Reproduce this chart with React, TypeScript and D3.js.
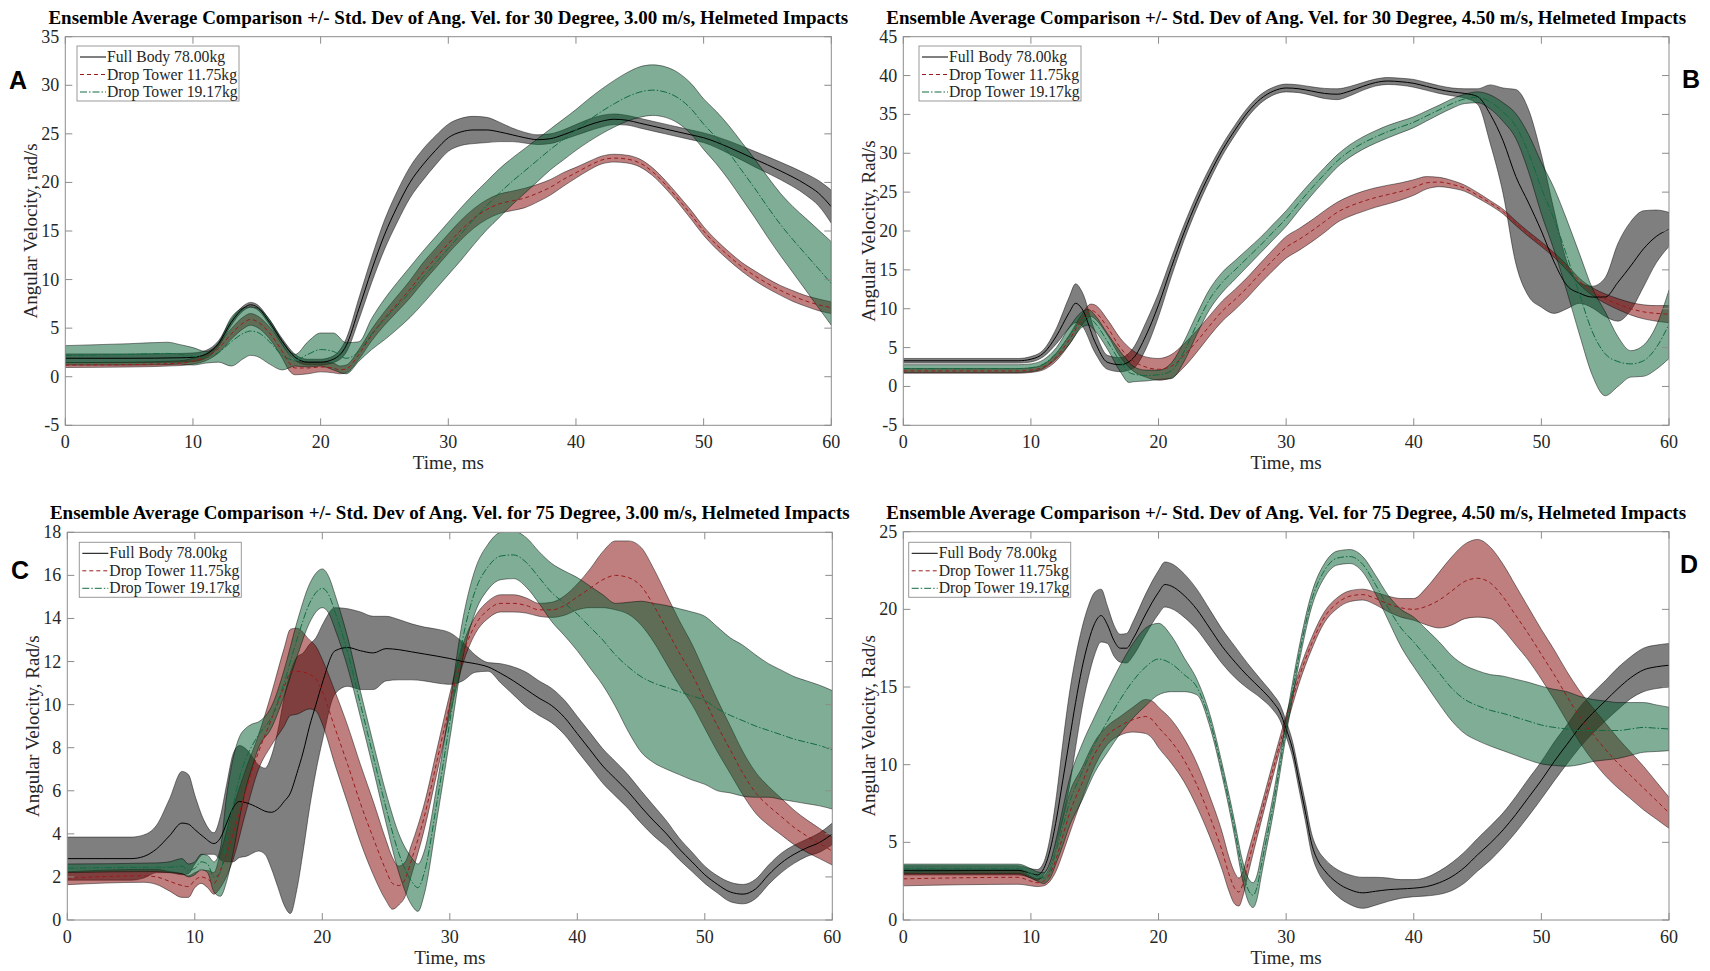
import React from 'react';
import * as d3 from 'd3';

// each point: [time ms, ensemble mean, std dev]
type Pt = [number, number, number];

// ---- A : 30 deg, 3.00 m/s ----
const aFullBody: Pt[] = [
  [0, 1.9, 0.45], [5, 1.9, 0.45], [9, 1.95, 0.45], [10, 2.0, 0.45], [11, 2.3, 0.4], [12, 3.4, 0.3],
  [13, 5.6, 0.3], [14, 7.1, 0.25], [14.5, 7.4, 0.25], [15, 7.2, 0.25], [16, 5.6, 0.25], [17, 3.6, 0.3],
  [18, 2.0, 0.3], [19, 1.5, 0.3], [20, 1.5, 0.3], [21, 1.8, 0.35], [22, 3.2, 0.7], [23, 7.0, 1.1],
  [24, 11.0, 1.3], [25, 14.6, 1.5], [26, 17.5, 1.6], [27, 20.0, 1.6], [28, 21.8, 1.6], [29, 23.3, 1.5],
  [30, 24.6, 1.4], [31, 25.2, 1.4], [32, 25.4, 1.4], [33, 25.4, 1.3], [34, 25.2, 1.0], [35, 24.9, 0.7],
  [36, 24.6, 0.55], [37, 24.4, 0.5], [38, 24.5, 0.5], [39, 24.9, 0.5], [40, 25.4, 0.55], [41, 25.9, 0.6],
  [42, 26.3, 0.6], [43, 26.5, 0.55], [44, 26.4, 0.5], [45, 26.1, 0.5], [46, 25.8, 0.5], [47, 25.5, 0.5],
  [48, 25.2, 0.5], [49, 24.9, 0.5], [50, 24.6, 0.5], [52, 23.6, 0.65], [54, 22.4, 0.8], [56, 21.2, 0.9],
  [58, 19.8, 1.1], [59, 18.9, 1.3], [60, 17.5, 1.7],
];
const aDrop1175: Pt[] = [
  [0, 1.2, 0.25], [5, 1.25, 0.25], [9, 1.4, 0.25], [10, 1.6, 0.3], [11, 2.0, 0.35], [12, 2.9, 0.45],
  [13, 4.4, 0.55], [14, 5.6, 0.6], [14.5, 5.9, 0.6], [15, 5.7, 0.6], [16, 4.5, 0.6], [17, 2.6, 0.7],
  [17.5, 1.5, 0.8], [18, 0.9, 0.7], [19, 0.9, 0.6], [20, 1.0, 0.5], [21, 0.9, 0.5], [21.5, 0.7, 0.4],
  [22, 0.8, 0.4], [23, 2.3, 0.5], [24, 4.3, 0.6], [25, 6.0, 0.7], [26, 7.5, 0.8], [27, 9.0, 0.9],
  [28, 10.7, 1.0], [29, 12.2, 1.0], [30, 13.7, 1.0], [31, 15.1, 1.0], [32, 16.3, 1.0], [33, 17.2, 1.0],
  [34, 17.8, 1.0], [35, 18.1, 1.0], [36, 18.4, 1.0], [37, 18.9, 0.9], [38, 19.5, 0.8], [39, 20.3, 0.7],
  [40, 21.0, 0.55], [41, 21.7, 0.45], [42, 22.3, 0.4], [43, 22.5, 0.4], [44, 22.4, 0.4], [45, 22.0, 0.4],
  [46, 21.1, 0.4], [47, 19.8, 0.4], [48, 18.3, 0.4], [49, 16.7, 0.45], [50, 15.0, 0.45], [51, 13.6, 0.45],
  [52, 12.4, 0.45], [53, 11.3, 0.45], [54, 10.4, 0.5], [55, 9.6, 0.5], [56, 8.9, 0.5], [57, 8.3, 0.55],
  [58, 7.8, 0.55], [59, 7.4, 0.6], [60, 7.1, 0.6],
];
const aDrop1917: Pt[] = [
  [0, 2.2, 1.0], [5, 2.3, 1.1], [8, 2.4, 1.15], [9, 2.3, 1.0], [10, 2.1, 0.9], [11, 2.0, 0.6],
  [12, 2.5, 1.0], [13, 3.6, 2.5], [14, 4.5, 2.6], [14.5, 4.7, 2.5], [15, 4.6, 2.5], [16, 3.6, 2.3],
  [17, 2.2, 1.5], [18, 1.7, 0.6], [19, 2.3, 1.3], [20, 2.8, 1.7], [21, 2.6, 1.9], [22, 1.9, 1.6],
  [23, 2.6, 1.0], [24, 4.4, 1.6], [25, 5.9, 2.1], [26, 7.3, 2.4], [27, 8.7, 2.6], [28, 10.2, 2.7],
  [29, 11.7, 2.7], [30, 13.2, 2.7], [31, 14.7, 2.7], [32, 16.2, 2.6], [33, 17.6, 2.5], [34, 18.9, 2.5],
  [35, 20.1, 2.4], [36, 21.2, 2.3], [37, 22.3, 2.2], [38, 23.4, 2.1], [39, 24.4, 2.1], [40, 25.4, 2.1],
  [41, 26.4, 2.2], [42, 27.3, 2.3], [43, 28.1, 2.4], [44, 28.8, 2.5], [45, 29.3, 2.6], [46, 29.5, 2.6],
  [47, 29.3, 2.6], [48, 28.7, 2.6], [49, 27.6, 2.6], [50, 26.0, 2.6], [51, 24.6, 2.7], [52, 23.0, 2.8],
  [53, 21.2, 2.9], [54, 19.4, 3.0], [55, 17.5, 3.1], [56, 15.7, 3.2], [57, 14.1, 3.4], [58, 12.6, 3.7],
  [59, 11.1, 4.0], [60, 9.6, 4.3],
];

// ---- B : 30 deg, 4.50 m/s ----
const bFullBody: Pt[] = [
  [0, 3.3, 0.3], [9, 3.3, 0.3], [10, 3.5, 0.35], [11, 4.3, 0.45], [12, 6.5, 1.0], [13, 9.5, 2.0],
  [13.5, 10.7, 2.5], [14, 10.0, 2.2], [15, 5.8, 1.4], [16, 3.1, 0.9], [17, 2.8, 0.9], [18, 3.6, 1.3],
  [19, 6.5, 1.7], [20, 10.5, 1.5], [21, 15.3, 1.2], [22, 19.8, 1.0], [23, 23.8, 0.9], [24, 27.3, 0.8],
  [25, 30.4, 0.7], [26, 33.0, 0.65], [27, 35.3, 0.6], [28, 37.0, 0.55], [29, 38.0, 0.5], [30, 38.4, 0.5],
  [31, 38.3, 0.5], [32, 38.0, 0.55], [33, 37.7, 0.65], [34, 37.6, 0.7], [35, 38.0, 0.6], [36, 38.6, 0.5],
  [37, 39.1, 0.45], [38, 39.3, 0.45], [39, 39.2, 0.45], [40, 39.0, 0.5], [41, 38.6, 0.5], [42, 38.2, 0.5],
  [43, 37.9, 0.5], [44, 37.7, 0.6], [45, 37.3, 1.0], [46, 35.0, 3.8], [47, 31.6, 6.8], [48, 27.0, 11.2],
  [49, 23.6, 12.0], [50, 20.0, 9.8], [51, 16.0, 6.6], [52, 13.0, 3.0], [53, 12.0, 1.3], [54, 11.5, 1.4],
  [55, 11.5, 2.5], [56, 13.4, 5.0], [57, 15.5, 5.7], [58, 17.7, 4.9], [59, 19.3, 3.4], [60, 20.2, 2.2],
];
const bDrop1175: Pt[] = [
  [0, 2.0, 0.3], [9, 2.0, 0.3], [10, 2.1, 0.3], [11, 2.5, 0.35], [12, 3.8, 0.5], [13, 6.0, 0.6],
  [14, 8.6, 0.7], [14.7, 9.8, 0.8], [15, 9.6, 0.9], [16, 7.6, 1.0], [17, 5.0, 1.2], [18, 3.3, 1.3],
  [19, 2.5, 1.3], [20, 2.2, 1.4], [21, 2.6, 1.5], [22, 4.0, 1.5], [23, 5.8, 1.4], [24, 7.8, 1.3],
  [25, 9.7, 1.3], [26, 11.2, 1.3], [27, 12.8, 1.3], [28, 14.6, 1.3], [29, 16.3, 1.35], [30, 17.9, 1.4],
  [31, 18.9, 1.4], [32, 20.0, 1.4], [33, 21.2, 1.4], [34, 22.4, 1.3], [35, 23.2, 1.3], [36, 23.8, 1.3],
  [37, 24.3, 1.25], [38, 24.7, 1.2], [39, 25.1, 1.1], [40, 25.6, 1.0], [41, 26.2, 0.8], [42, 26.3, 0.6],
  [43, 26.0, 0.5], [44, 25.5, 0.4], [45, 24.6, 0.35], [46, 23.6, 0.3], [47, 22.5, 0.3], [48, 21.0, 0.3],
  [49, 19.6, 0.3], [50, 18.3, 0.3], [51, 16.9, 0.3], [52, 15.3, 0.35], [53, 13.5, 0.4], [54, 12.2, 0.5],
  [55, 11.3, 0.6], [56, 10.6, 0.7], [57, 10.0, 0.8], [58, 9.6, 0.9], [59, 9.4, 1.0], [60, 9.3, 1.1],
];
const bDrop1917: Pt[] = [
  [0, 2.3, 0.5], [9, 2.3, 0.5], [10, 2.4, 0.5], [11, 2.9, 0.55], [12, 4.3, 0.7], [13, 6.5, 1.1],
  [14, 8.6, 1.0], [14.5, 8.9, 1.0], [15, 8.2, 1.0], [16, 5.8, 1.0], [17, 3.2, 1.3], [17.7, 1.8, 1.3],
  [18, 1.6, 1.0], [19, 1.4, 0.7], [20, 1.5, 0.6], [21, 2.0, 1.0], [22, 4.5, 1.3], [23, 8.0, 1.3],
  [24, 11.2, 1.3], [25, 13.4, 1.3], [26, 15.0, 1.2], [27, 16.6, 1.1], [28, 18.2, 1.0], [29, 19.9, 1.0],
  [30, 21.6, 1.0], [31, 23.6, 0.95], [32, 25.5, 0.9], [33, 27.3, 0.85], [34, 29.0, 0.8], [35, 30.3, 0.8],
  [36, 31.3, 0.8], [37, 32.1, 0.8], [38, 32.8, 0.8], [39, 33.4, 0.75], [40, 34.0, 0.7], [41, 34.8, 0.65],
  [42, 35.6, 0.6], [43, 36.4, 0.6], [44, 37.0, 0.6], [45, 37.2, 0.7], [46, 36.6, 0.9], [47, 35.3, 1.2],
  [48, 33.5, 1.6], [49, 30.0, 2.4], [50, 25.5, 3.3], [51, 21.5, 4.0], [52, 16.8, 4.6], [53, 11.8, 5.2],
  [54, 7.0, 5.6], [55, 4.2, 5.4], [56, 3.2, 3.2], [57, 2.9, 1.7], [58, 3.3, 2.0], [59, 5.0, 2.8],
  [60, 8.0, 4.4],
];

// ---- C : 75 deg, 3.00 m/s ----
const cFullBody: Pt[] = [
  [0, 2.85, 1.0], [5, 2.85, 1.0], [6, 2.95, 1.0], [7, 3.3, 1.1], [8, 3.9, 1.7], [9, 4.5, 2.4],
  [9.5, 4.45, 2.3], [10, 4.2, 1.6], [10.7, 3.85, 0.8], [11.5, 3.55, 0.5], [12, 3.8, 1.0], [12.5, 4.5, 1.8],
  [13, 5.2, 2.5], [13.5, 5.5, 2.6], [14, 5.45, 2.5], [15, 5.2, 2.0], [15.5, 5.05, 2.0], [16, 5.0, 2.6],
  [16.5, 5.15, 3.6], [17, 5.5, 4.8], [17.5, 5.9, 5.6], [18, 6.8, 5.4], [18.5, 7.8, 4.6], [19, 9.0, 3.8],
  [19.5, 10.0, 3.1], [20, 11.0, 2.7], [21, 12.5, 2.0], [22, 12.65, 1.8], [23, 12.5, 1.8], [24, 12.4, 1.7],
  [25, 12.6, 1.5], [26, 12.55, 1.4], [27, 12.45, 1.3], [28, 12.35, 1.25], [29, 12.25, 1.25], [30, 12.14, 1.2],
  [31, 12.0, 0.9], [32, 11.9, 0.4], [33, 11.75, 0.2], [34, 11.45, 0.45], [35, 11.1, 0.65], [36, 10.7, 0.8],
  [37, 10.3, 0.8], [38, 9.95, 0.8], [39, 9.4, 0.8], [40, 8.65, 0.8], [41, 7.9, 0.8], [42, 7.15, 0.8],
  [43, 6.55, 0.8], [44, 5.95, 0.78], [45, 5.25, 0.75], [46, 4.6, 0.7], [47, 4.0, 0.6], [48, 3.3, 0.5],
  [49, 2.7, 0.45], [50, 2.1, 0.4], [51, 1.65, 0.4], [52, 1.3, 0.45], [53, 1.2, 0.45], [54, 1.45, 0.45],
  [55, 2.1, 0.45], [56, 2.65, 0.45], [57, 3.05, 0.42], [58, 3.35, 0.4], [59, 3.6, 0.45], [60, 4.0, 0.5],
];
const cDrop1175: Pt[] = [
  [0, 1.94, 0.3], [6, 2.05, 0.3], [7, 2.0, 0.35], [8, 1.8, 0.45], [9, 1.6, 0.55], [9.5, 1.55, 0.5],
  [10, 1.85, 0.35], [10.5, 2.0, 0.3], [11, 1.9, 0.4], [11.5, 1.7, 0.5], [12, 2.3, 0.8], [13, 4.0, 1.2],
  [14, 6.0, 1.0], [15, 7.8, 0.8], [16, 9.3, 1.2], [17, 10.8, 1.8], [17.5, 11.5, 2.0], [18, 11.55, 2.0],
  [19, 11.4, 1.6], [19.5, 11.2, 1.5], [20, 10.6, 1.5], [21, 8.9, 1.7], [22, 7.2, 1.8], [23, 5.4, 1.8],
  [24, 3.8, 1.7], [25, 2.3, 1.4], [25.5, 1.7, 1.2], [26, 1.6, 0.9], [26.5, 1.9, 0.8], [27, 2.8, 0.7],
  [28, 4.8, 0.6], [29, 7.4, 0.55], [30, 10.0, 0.5], [31, 12.3, 0.45], [32, 13.7, 0.4], [33, 14.4, 0.4],
  [34, 14.7, 0.4], [35, 14.7, 0.4], [36, 14.6, 0.35], [37, 14.4, 0.3], [38, 14.4, 0.35], [39, 14.6, 0.45],
  [40, 15.0, 0.6], [41, 15.4, 0.9], [42, 15.8, 1.3], [43, 16.0, 1.6], [44, 15.9, 1.7], [45, 15.5, 1.8],
  [46, 14.6, 1.7], [47, 13.5, 1.6], [48, 12.4, 1.5], [49, 11.4, 1.4], [50, 10.2, 1.3], [51, 9.0, 1.2],
  [52, 7.9, 1.1], [53, 6.8, 1.0], [54, 5.9, 0.95], [55, 5.3, 0.9], [56, 4.8, 0.85], [57, 4.3, 0.8],
  [58, 3.9, 0.75], [59, 3.55, 0.7], [60, 3.2, 0.65],
];
const cDrop1917: Pt[] = [
  [0, 2.4, 0.2], [7, 2.45, 0.2], [8, 2.45, 0.25], [9, 2.5, 0.35], [9.5, 2.3, 0.3], [10, 2.4, 0.3],
  [10.5, 2.7, 0.35], [11, 2.6, 0.4], [11.5, 2.0, 0.7], [12, 2.2, 1.1], [12.5, 3.8, 2.0], [13, 5.3, 2.2],
  [13.5, 6.6, 1.9], [14, 7.5, 1.4], [14.5, 8.1, 1.0], [15, 8.6, 0.6], [16, 9.4, 0.5], [17, 11.0, 0.6],
  [18, 13.0, 0.8], [19, 14.7, 0.9], [19.5, 15.2, 0.9], [20, 15.4, 0.9], [20.5, 15.1, 0.85], [21, 14.3, 0.8],
  [22, 12.4, 0.7], [23, 10.0, 0.6], [24, 7.6, 0.6], [25, 5.2, 0.7], [26, 3.1, 0.9], [27, 1.8, 1.1],
  [27.5, 1.5, 1.1], [28, 2.2, 1.0], [29, 5.5, 0.8], [30, 9.2, 0.8], [31, 13.0, 0.9], [32, 15.3, 1.0],
  [33, 16.4, 1.05], [34, 16.9, 1.1], [35, 16.95, 1.1], [36, 16.6, 1.15], [37, 15.9, 1.2], [38, 15.2, 1.35],
  [39, 14.7, 1.5], [40, 14.2, 1.7], [41, 13.6, 1.9], [42, 13.0, 2.1], [43, 12.3, 2.4], [44, 11.75, 3.0],
  [45, 11.3, 3.5], [46, 11.0, 3.7], [47, 10.8, 3.8], [48, 10.6, 3.85], [49, 10.4, 3.9], [50, 10.2, 3.9],
  [51, 9.8, 3.8], [52, 9.5, 3.6], [53, 9.25, 3.5], [54, 9.0, 3.3], [55, 8.8, 3.1], [56, 8.6, 3.0],
  [57, 8.4, 2.9], [58, 8.25, 2.85], [59, 8.1, 2.8], [60, 7.9, 2.75],
];

// ---- D : 75 deg, 4.50 m/s ----
const dFullBody: Pt[] = [
  [0, 3.2, 0.3], [9, 3.2, 0.3], [10, 3.0, 0.3], [10.5, 2.9, 0.35], [11, 3.3, 0.4], [11.5, 4.5, 0.8],
  [12, 6.5, 1.5], [12.5, 9.0, 2.4], [13, 11.5, 3.0], [13.5, 14.0, 2.9], [14, 16.2, 2.6], [14.5, 17.9, 2.3],
  [15, 19.1, 2.0], [15.5, 19.6, 1.7], [16, 19.0, 1.2], [16.5, 18.0, 1.0], [17, 17.5, 0.9], [17.5, 17.5, 0.95],
  [18, 18.1, 1.1], [19, 19.7, 1.3], [20, 21.1, 1.4], [20.5, 21.6, 1.45], [21, 21.5, 1.45], [22, 20.9, 1.4],
  [23, 20.0, 1.3], [24, 18.8, 1.2], [25, 17.6, 1.1], [26, 16.6, 1.0], [27, 15.7, 0.8], [28, 14.9, 0.6],
  [29, 14.0, 0.5], [29.5, 13.4, 0.5], [30, 12.3, 0.5], [30.5, 11.0, 0.5], [31, 9.0, 0.55], [31.5, 7.0, 0.6],
  [32, 4.9, 0.65], [32.5, 3.8, 0.7], [33, 3.2, 0.75], [34, 2.4, 0.85], [35, 1.95, 0.95], [36, 1.75, 1.0],
  [37, 1.85, 0.9], [38, 1.95, 0.75], [39, 2.0, 0.6], [40, 2.05, 0.55], [41, 2.15, 0.6], [42, 2.4, 0.75],
  [43, 2.8, 0.9], [44, 3.4, 1.0], [45, 4.2, 1.05], [46, 4.95, 1.1], [47, 5.8, 1.1], [48, 6.8, 1.15],
  [49, 7.9, 1.2], [50, 9.0, 1.2], [51, 10.2, 1.25], [52, 11.3, 1.25], [53, 12.4, 1.3], [54, 13.3, 1.3],
  [55, 14.1, 1.3], [56, 14.9, 1.35], [57, 15.6, 1.35], [58, 16.1, 1.4], [59, 16.3, 1.4], [60, 16.4, 1.4],
];
const dDrop1175: Pt[] = [
  [0, 2.65, 0.45], [9, 2.75, 0.45], [10, 2.5, 0.3], [10.5, 2.4, 0.25], [11, 2.5, 0.3], [11.5, 3.0, 0.5],
  [12, 4.0, 0.8], [12.5, 5.4, 1.1], [13, 6.8, 1.3], [14, 8.8, 1.0], [15, 10.7, 0.8], [16, 11.9, 0.6],
  [17, 12.5, 0.6], [18, 12.9, 0.8], [19, 13.1, 1.1], [19.5, 12.9, 1.2], [20, 12.4, 1.3], [21, 11.5, 1.4],
  [22, 10.3, 1.4], [23, 8.7, 1.4], [24, 6.7, 1.3], [25, 4.4, 1.2], [25.5, 3.0, 1.1], [26, 2.0, 1.0],
  [26.3, 1.8, 0.9], [26.6, 2.3, 0.8], [27, 3.6, 0.7], [28, 6.7, 0.5], [29, 9.8, 0.45], [30, 12.8, 0.4],
  [31, 15.6, 0.4], [32, 17.8, 0.38], [33, 19.5, 0.35], [34, 20.4, 0.35], [35, 20.85, 0.35], [36, 20.95, 0.35],
  [37, 20.7, 0.4], [38, 20.35, 0.5], [39, 20.1, 0.6], [40, 20.0, 0.7], [41, 20.2, 1.2], [42, 20.6, 1.8],
  [43, 21.2, 2.2], [44, 21.8, 2.4], [45, 22.0, 2.5], [46, 21.7, 2.3], [47, 20.8, 2.1], [48, 19.6, 1.9],
  [49, 18.4, 1.7], [50, 17.1, 1.6], [51, 15.8, 1.6], [52, 14.4, 1.6], [53, 13.1, 1.65], [54, 12.0, 1.7],
  [55, 11.0, 1.7], [56, 10.1, 1.6], [57, 9.3, 1.5], [58, 8.5, 1.4], [59, 7.7, 1.2], [60, 6.9, 1.0],
];
const dDrop1917: Pt[] = [
  [0, 3.3, 0.3], [9, 3.3, 0.3], [10, 3.0, 0.3], [10.5, 2.8, 0.3], [11, 2.7, 0.35], [11.5, 3.2, 0.5],
  [12, 4.5, 0.8], [12.5, 6.0, 1.2], [13, 7.5, 1.5], [14, 9.5, 1.8], [15, 11.3, 1.8], [16, 12.8, 2.0],
  [17, 14.2, 2.2], [18, 15.4, 2.4], [19, 16.3, 2.5], [20, 16.8, 2.3], [21, 16.5, 1.8], [22, 15.8, 1.1],
  [23, 15.0, 0.5], [24, 12.9, 0.4], [25, 9.6, 0.4], [26, 5.7, 0.5], [26.5, 3.5, 0.6], [27, 2.0, 0.75],
  [27.4, 1.6, 0.8], [27.8, 2.4, 0.75], [28, 3.3, 0.7], [29, 7.5, 0.6], [30, 12.4, 0.5], [31, 17.0, 0.5],
  [32, 20.6, 0.45], [33, 22.5, 0.45], [34, 23.3, 0.45], [35, 23.4, 0.45], [36, 22.9, 0.5], [37, 21.6, 0.6],
  [38, 20.1, 0.8], [39, 18.8, 1.2], [40, 17.9, 1.6], [41, 16.9, 1.8], [42, 15.9, 2.0], [43, 14.9, 2.1],
  [44, 14.2, 2.2], [45, 13.8, 2.25], [46, 13.5, 2.3], [47, 13.3, 2.4], [48, 13.05, 2.45], [49, 12.8, 2.5],
  [50, 12.55, 2.5], [51, 12.4, 2.45], [52, 12.3, 2.4], [53, 12.2, 2.2], [54, 12.2, 2.0], [55, 12.2, 1.9],
  [56, 12.2, 1.8], [57, 12.3, 1.7], [58, 12.4, 1.6], [59, 12.35, 1.5], [60, 12.3, 1.4],
];

const seriesNames = ['Full Body 78.00kg', 'Drop Tower 11.75kg', 'Drop Tower 19.17kg'];
const xTicks = [0, 10, 20, 30, 40, 50, 60];

// fill / mean-line styles, same order as seriesNames
const styles = [
  { fill: '#000000', line: '#000000', dash: undefined as string | undefined },
  { fill: '#800000', line: '#9a1c1c', dash: '4,3' },
  { fill: '#005c2e', line: '#136b42', dash: '7,2,1.5,2' },
];

const panels = [
  {
    letter: 'A', lx: 18, ly: 89,
    title: 'Ensemble Average Comparison +/- Std. Dev of Ang. Vel. for 30 Degree, 3.00 m/s, Helmeted Impacts',
    yLabel: 'Angular Velocity, rad/s', yDomain: [-5, 35], yTicks: d3.range(-5, 36, 5),
    box: { left: 65.3, right: 831.3, top: 36.7, bottom: 425.3 },
    legend: { x: 77, y: 46 },
    series: [aFullBody, aDrop1175, aDrop1917],
  },
  {
    letter: 'B', lx: 1691, ly: 88,
    title: 'Ensemble Average Comparison +/- Std. Dev of Ang. Vel. for 30 Degree, 4.50 m/s, Helmeted Impacts',
    yLabel: 'Angular Velocity, Rad/s', yDomain: [-5, 45], yTicks: d3.range(-5, 46, 5),
    box: { left: 903.3, right: 1669, top: 36.7, bottom: 425.3 },
    legend: { x: 919, y: 46 },
    series: [bFullBody, bDrop1175, bDrop1917],
  },
  {
    letter: 'C', lx: 20, ly: 579,
    title: 'Ensemble Average Comparison +/- Std. Dev of Ang. Vel. for 75 Degree, 3.00 m/s, Helmeted Impacts',
    yLabel: 'Angular Velocity, Rad/s', yDomain: [0, 18], yTicks: d3.range(0, 19, 2),
    box: { left: 67.3, right: 832.3, top: 532.3, bottom: 920 },
    legend: { x: 79.3, y: 542.3 },
    series: [cFullBody, cDrop1175, cDrop1917],
  },
  {
    letter: 'D', lx: 1689, ly: 573,
    title: 'Ensemble Average Comparison +/- Std. Dev of Ang. Vel. for 75 Degree, 4.50 m/s, Helmeted Impacts',
    yLabel: 'Angular Velocity, Rad/s', yDomain: [0, 25], yTicks: d3.range(0, 26, 5),
    box: { left: 903.3, right: 1669, top: 531.7, bottom: 920 },
    legend: { x: 908.7, y: 542.3 },
    series: [dFullBody, dDrop1175, dDrop1917],
  },
];

const serif = '"Liberation Serif", "Times New Roman", serif';
const axisColor = '#8c8c8c';
const textColor = '#262626';

const Panel = ({ p, idx }) => {
  const { box } = p;
  const x = d3.scaleLinear().domain([0, 60]).range([box.left, box.right]);
  const y = d3.scaleLinear().domain(p.yDomain).range([box.bottom, box.top]);

  const band = d3
    .area<Pt>()
    .x(d => x(d[0]))
    .y0(d => y(d[1] - d[2]))
    .y1(d => y(d[1] + d[2]))
    .curve(d3.curveMonotoneX);
  const mean = d3
    .line<Pt>()
    .x(d => x(d[0]))
    .y(d => y(d[1]))
    .curve(d3.curveMonotoneX);

  const clipId = 'clip-' + idx;
  const cx = (box.left + box.right) / 2;
  const cy = (box.top + box.bottom) / 2;
  const tickLen = 7;

  return (
    <g>
      <defs>
        <clipPath id={clipId}>
          <rect x={box.left} y={box.top} width={box.right - box.left} height={box.bottom - box.top} />
        </clipPath>
      </defs>

      {/* std dev bands, then ensemble means */}
      <g clipPath={`url(#${clipId})`}>
        {p.series.map((s, i) => (
          <path
            key={'b' + i}
            d={band(s)}
            fill={styles[i].fill}
            fillOpacity={0.5}
            stroke="#000"
            strokeOpacity={0.65}
            strokeWidth={0.7}
          />
        ))}
        {p.series.map((s, i) => (
          <path
            key={'m' + i}
            d={mean(s)}
            fill="none"
            stroke={styles[i].line}
            strokeWidth={1}
            strokeDasharray={styles[i].dash}
          />
        ))}
      </g>

      {/* axes box + inward ticks on all four sides */}
      <rect
        x={box.left}
        y={box.top}
        width={box.right - box.left}
        height={box.bottom - box.top}
        fill="none"
        stroke={axisColor}
        strokeWidth={1}
      />
      {xTicks.map(t => (
        <g key={'xt' + t}>
          <line x1={x(t)} x2={x(t)} y1={box.bottom} y2={box.bottom - tickLen} stroke={axisColor} />
          <line x1={x(t)} x2={x(t)} y1={box.top} y2={box.top + tickLen} stroke={axisColor} />
          <text
            x={x(t)}
            y={box.bottom + 23}
            textAnchor="middle"
            fontFamily={serif}
            fontSize={18}
            fill={textColor}
          >
            {t}
          </text>
        </g>
      ))}
      {p.yTicks.map(v => (
        <g key={'yt' + v}>
          <line x1={box.left} x2={box.left + tickLen} y1={y(v)} y2={y(v)} stroke={axisColor} />
          <line x1={box.right} x2={box.right - tickLen} y1={y(v)} y2={y(v)} stroke={axisColor} />
          <text
            x={box.left - 6}
            y={y(v) + 6}
            textAnchor="end"
            fontFamily={serif}
            fontSize={18}
            fill={textColor}
          >
            {v}
          </text>
        </g>
      ))}

      <text x={cx} y={box.bottom + 44} textAnchor="middle" fontFamily={serif} fontSize={19} fill={textColor}>
        Time, ms
      </text>
      <text
        transform={`translate(${box.left - 28},${cy}) rotate(-90)`}
        textAnchor="middle"
        fontFamily={serif}
        fontSize={19}
        fill={textColor}
      >
        {p.yLabel}
      </text>
      <text
        x={cx}
        y={box.top - 13}
        textAnchor="middle"
        fontFamily={serif}
        fontWeight="bold"
        fontSize={19}
        fill="#000"
      >
        {p.title}
      </text>

      {/* legend */}
      <g transform={`translate(${p.legend.x},${p.legend.y})`}>
        <rect x={0} y={0} width={162} height={55} fill="#fff" stroke="#999" strokeWidth={1} />
        {seriesNames.map((name, i) => {
          const ry = 11 + i * 17.5;
          return (
            <g key={name}>
              <line
                x1={3}
                x2={29}
                y1={ry}
                y2={ry}
                stroke={styles[i].line}
                strokeWidth={1}
                strokeDasharray={styles[i].dash}
              />
              <text x={30} y={ry + 5} fontFamily={serif} fontSize={15.7} fill={textColor}>
                {name}
              </text>
            </g>
          );
        })}
      </g>

      <text
        x={p.lx}
        y={p.ly}
        textAnchor="middle"
        fontFamily='"Liberation Sans", Arial, sans-serif'
        fontWeight="bold"
        fontSize={25}
        fill="#000"
      >
        {p.letter}
      </text>
    </g>
  );
};

export default function App() {
  return (
    <svg
      width={1710}
      height={971}
      style={{ position: 'absolute', left: 0, top: 0, background: '#fff' }}
    >
      {panels.map((p, i) => (
        <Panel key={p.letter} p={p} idx={i} />
      ))}
    </svg>
  );
}
